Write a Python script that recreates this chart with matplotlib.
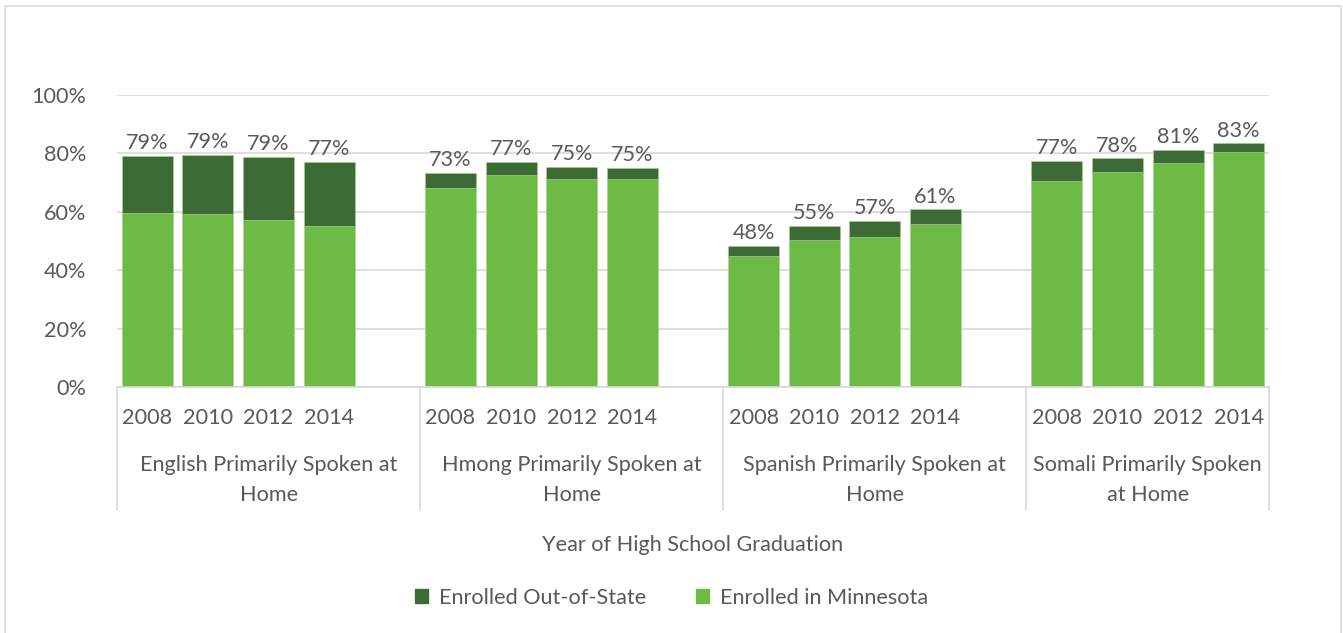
import matplotlib.pyplot as plt
from matplotlib.patches import Rectangle
from matplotlib.patches import Patch

# Data (share of graduates enrolled, %)
groups = ['English Primarily Spoken at\nHome', 'Hmong Primarily Spoken at\nHome',
          'Spanish Primarily Spoken at\nHome', 'Somali Primarily Spoken\nat Home']
years = ['2008', '2010', '2012', '2014']

in_mn_english = [59.6, 59.4, 57.3, 55.3]
out_english = [19.5, 20.0, 21.6, 21.9]
in_mn_hmong = [68.3, 72.5, 71.2, 71.2]
out_hmong = [5.0, 4.6, 4.2, 3.9]
in_mn_spanish = [44.9, 50.3, 51.5, 55.9]
out_spanish = [3.3, 5.0, 5.4, 4.9]
in_mn_somali = [70.7, 73.7, 76.8, 80.6]
out_somali = [6.7, 4.6, 4.5, 2.8]

in_mn = [in_mn_english, in_mn_hmong, in_mn_spanish, in_mn_somali]
out_state = [out_english, out_hmong, out_spanish, out_somali]

dark = '#3d6b35'
light = '#6dbb45'
text_col = '#595959'
grid_col = '#d9d9d9'

plt.rcParams['font.family'] = ['Lato', 'DejaVu Sans']
fs = 15.6

fig = plt.figure(figsize=(13.43, 6.33), dpi=100)
ax = fig.add_axes([117 / 1343, 1 - 387 / 633, (1269 - 117) / 1343, 292 / 633])

# each group takes 5 slots, the last slot empty (except the last group)
for g in range(len(groups)):
    for i in range(len(years)):
        x = g * 5 + i
        mn = in_mn[g][i]
        out = out_state[g][i]
        ax.bar(x, mn, width=0.84, color=light, edgecolor='#a8d08d', linewidth=0.4, zorder=2)
        ax.bar(x, out, bottom=mn, width=0.84, color=dark, edgecolor='#a8d08d', linewidth=0.4, zorder=2)
        ax.annotate(f'{round(mn + out)}%', (x, mn + out), xytext=(0, 2),
                    textcoords='offset points', ha='center', va='bottom',
                    fontsize=fs, color=text_col)
        ax.text(x, -0.106, years[i], transform=ax.get_xaxis_transform(),
                ha='center', va='center', fontsize=fs, color=text_col)
    center = g * 5 + 2 if g < 3 else 16.5
    ax.text(center, -0.318, groups[g],
            transform=ax.get_xaxis_transform(), ha='center', va='center',
            fontsize=fs, color=text_col, linespacing=1.6)

# group separators below the axis
for xb in [-0.5, 4.5, 9.5, 14.5, 18.5]:
    ax.plot([xb, xb], [0, -0.421], transform=ax.get_xaxis_transform(),
            color=grid_col, lw=1.2, clip_on=False)

ax.set_xlim(-0.5, 18.5)
ax.set_ylim(0, 100)
ax.set_yticks([0, 20, 40, 60, 80, 100])
ax.set_yticklabels([f'{v}%' for v in [0, 20, 40, 60, 80, 100]])
ax.tick_params(axis='y', length=0, pad=22, labelsize=fs, labelcolor=text_col)
ax.set_xticks([])
ax.grid(axis='y', color=grid_col, lw=1.2, zorder=0)
for s in ['top', 'right', 'left']:
    ax.spines[s].set_visible(False)
ax.spines['bottom'].set_color(grid_col)
ax.spines['bottom'].set_linewidth(1.2)

ax.text(0.5, -0.541, 'Year of High School Graduation', transform=ax.transAxes,
        ha='center', va='center', fontsize=fs, color=text_col)

handles = [Patch(color=dark, label='Enrolled Out-of-State'),
           Patch(color=light, label='Enrolled in Minnesota')]
fig.legend(handles=handles, loc='center', bbox_to_anchor=(0.5, 1 - 598 / 633),
           ncol=2, frameon=False, fontsize=fs, labelcolor=text_col,
           handlelength=0.6, handleheight=0.6, columnspacing=2.3, handletextpad=0.5)

# chart border
fig.patches.append(Rectangle((5 / 1343, -0.05), (1341 - 5) / 1343, 1.05 - 6 / 633,
                             transform=fig.transFigure, fill=False,
                             edgecolor=grid_col, lw=1.2))

fig.savefig('out.png', dpi=100)
